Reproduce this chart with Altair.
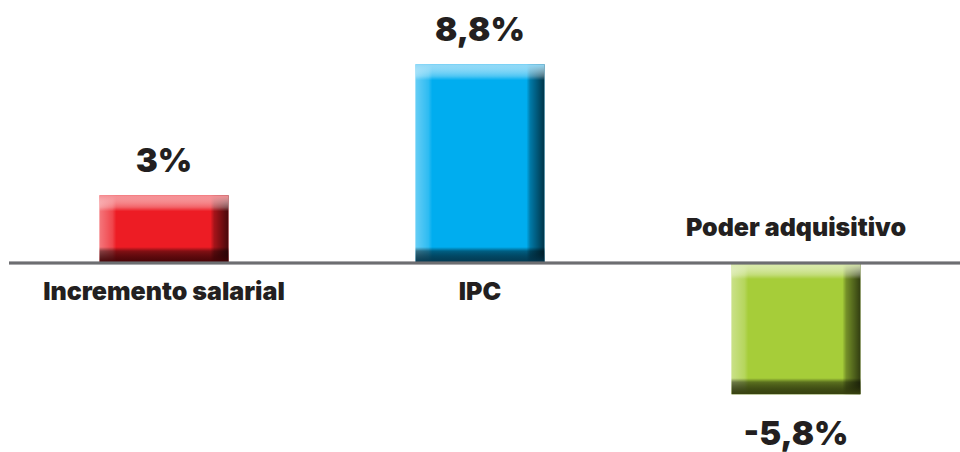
import altair as alt
import pandas as pd

categories = ["Incremento salarial", "IPC", "Poder adquisitivo"]
values = [3.0, 8.8, -5.8]
value_labels = ["3%", "8,8%", "-5,8%"]
base_colors = ["#ed1c24", "#00adef", "#a6cd39"]
light_colors = ["#f58d92", "#8fd8f7", "#d9eaaa"]
dark_colors = ["#4a0306", "#043b55", "#38420f"]

df = pd.DataFrame({"cat": categories, "value": values, "label": value_labels})
df["zero"] = 0.0

W, H = 960, 452
FONT = "Inter"
TXT = "#231f20"

x_enc = alt.X("cat:N", sort=categories, axis=None,
              scale=alt.Scale(paddingInner=0.592, paddingOuter=0.315))
y_scale = alt.Scale(domain=[-8.36, 11.64], nice=False, zero=False)


def grad(direction, stops):
    x2, y2 = (1, 0) if direction == "h" else (0, 1)
    return alt.Gradient(gradient="linear", x1=0, y1=0, x2=x2, y2=y2,
                        stops=[alt.GradientStop(offset=o, color=c) for o, c in stops])


base = alt.Chart(df)
bar_enc = dict(x=x_enc,
               y=alt.Y("value:Q", scale=y_scale, axis=None),
               y2=alt.Y2("zero:Q"))

layers = []
for i, cat in enumerate(categories):
    sub = base.transform_filter(alt.datum.cat == cat)
    h_px = abs(values[i]) * H / 20.0
    f = min(0.4, 16.0 / h_px)
    layers.append(sub.mark_bar(color=base_colors[i]).encode(**bar_enc))
    layers.append(sub.mark_bar(color=grad("h", [
        (0.0, "rgba(255,255,255,0.40)"),
        (0.10, "rgba(255,255,255,0.18)"),
        (0.13, "rgba(255,255,255,0)"),
        (0.86, "rgba(0,0,0,0)"),
        (0.89, "rgba(0,0,0,0.30)"),
        (1.0, "rgba(0,0,0,0.70)"),
    ])).encode(**bar_enc))
    layers.append(sub.mark_bar(color=grad("v", [
        (0.0, light_colors[i]),
        (f * 0.75, "rgba(255,255,255,0.30)"),
        (f, "rgba(255,255,255,0)"),
        (1 - f, "rgba(0,0,0,0)"),
        (1 - f * 0.75, "rgba(0,0,0,0.45)"),
        (1.0, dark_colors[i]),
    ])).encode(**bar_enc))

baseline = base.mark_rule(color="#6d6e71", strokeWidth=2.5).encode(
    y=alt.Y("zero:Q", scale=y_scale, axis=None),
    x=alt.value(9), x2=alt.value(W))

pos_val = base.transform_filter(alt.datum.value >= 0).mark_text(
    font=FONT, fontWeight=900, fontSize=33, color=TXT, dy=-33, baseline="middle"
).encode(x=x_enc, y=alt.Y("value:Q", scale=y_scale, axis=None), text="label:N")
neg_val = base.transform_filter(alt.datum.value < 0).mark_text(
    font=FONT, fontWeight=900, fontSize=33, color=TXT, dy=41, baseline="middle"
).encode(x=x_enc, y=alt.Y("value:Q", scale=y_scale, axis=None), text="label:N")

pos_cat = base.transform_filter(alt.datum.value >= 0).mark_text(
    font=FONT, fontWeight=900, fontSize=25, color=TXT, dy=29, baseline="middle"
).encode(x=x_enc, y=alt.Y("zero:Q", scale=y_scale, axis=None), text="cat:N")
neg_cat = base.transform_filter(alt.datum.value < 0).mark_text(
    font=FONT, fontWeight=900, fontSize=25, color=TXT, dy=-35, baseline="middle"
).encode(x=x_enc, y=alt.Y("zero:Q", scale=y_scale, axis=None), text="cat:N")

chart = alt.layer(*layers, baseline, pos_val, neg_val, pos_cat, neg_cat).properties(
    width=W, height=H, padding=0, background="white",
    autosize=alt.AutoSizeParams(type="none")
).configure_view(strokeWidth=0)

chart.save("out.html", embed_options={"renderer": "svg", "actions": False})
